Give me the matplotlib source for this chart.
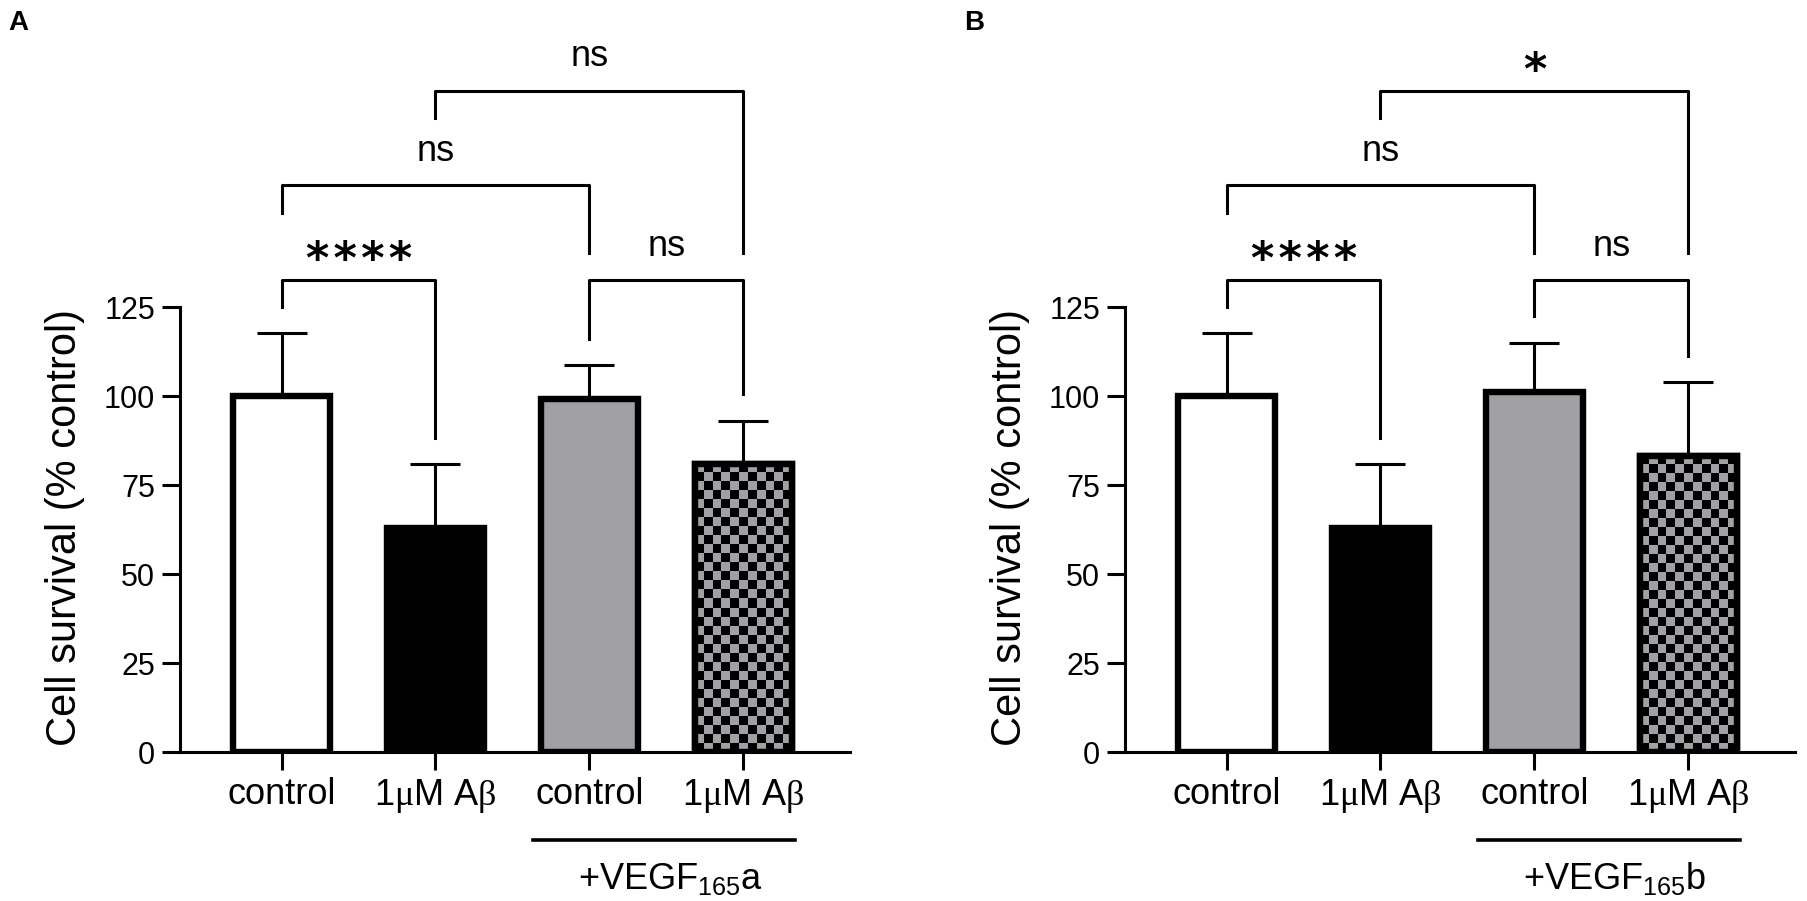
import numpy as np
import matplotlib
matplotlib.use("Agg")
import matplotlib.pyplot as plt

plt.rcParams['font.family'] = ['Liberation Sans', 'DejaVu Sans']
plt.rcParams['mathtext.fontset'] = 'custom'
plt.rcParams['mathtext.rm'] = 'Liberation Sans'
plt.rcParams['mathtext.it'] = 'Liberation Sans:italic'
plt.rcParams['mathtext.sf'] = 'Liberation Serif'
plt.rcParams['mathtext.default'] = 'regular'

# данные
categories = [r'control', r'1$\mathsf{\mu}$M A$\mathsf{\beta}$',
              r'control', r'1$\mathsf{\mu}$M A$\mathsf{\beta}$']

means_a = [100.0, 62.9, 99.3, 81.0]
sem_a = [17.7, 18.1, 9.4, 12.1]
means_b = [100.0, 62.9, 101.2, 83.2]
sem_b = [17.7, 18.1, 13.8, 20.8]

# скобки: (i, j, верх, нога i, нога j, подпись)
brackets_a = [(0, 1, 132.6, 125.0, 88.4, '****'),
              (0, 2, 159.2, 151.6, 140.3, 'ns'),
              (2, 3, 132.6, 116.1, 100.6, 'ns'),
              (1, 3, 185.8, 178.2, 140.3, 'ns')]
brackets_b = [(0, 1, 132.6, 125.0, 88.4, '****'),
              (0, 2, 159.2, 151.6, 140.3, 'ns'),
              (2, 3, 132.6, 122.6, 111.3, 'ns'),
              (1, 3, 185.8, 178.2, 140.3, '*')]

GRAY = '#a0a0a5'
fills = ['white', 'black', GRAY, 'checker']

fig = plt.figure(figsize=(18.08, 9.01), dpi=100)


def draw_panel(ax, means, sem, brackets, vegf, letter, letter_x):
    x = np.arange(len(means))
    bars = ax.bar(x, means, width=0.63, color=[f if f != 'checker' else 'black' for f in fills],
                  edgecolor='black', linewidth=4.6, zorder=2)
    ax.errorbar(x, means, yerr=[np.zeros(len(sem)), sem], fmt='none', ecolor='black',
                elinewidth=2.2, capsize=18, capthick=2.2, zorder=1)

    # шахматная заливка
    for b, f in zip(bars, fills):
        if f != 'checker':
            continue
        x0, w, h = b.get_x(), b.get_width(), b.get_height()
        nx = int(round(w / 0.0585))
        ny = int(round(h / 2.53))
        ii, jj = np.indices((ny, nx))
        board = (ii + jj) % 2
        cmap = matplotlib.colors.ListedColormap(['black', GRAY])
        im = ax.imshow(board, cmap=cmap, extent=(x0, x0 + w, 0, h), origin='lower',
                       aspect='auto', interpolation='nearest', zorder=2.1)
        im.set_clip_path(b)
        ax.bar(b.get_x() + w / 2, h, width=w, facecolor='none', edgecolor='black',
               linewidth=4.6, zorder=3)

    for i, j, top, li, lj, lab in brackets:
        ax.plot([x[i], x[i], x[j], x[j]], [li, top, top, lj], color='black',
                lw=2.2, clip_on=False, zorder=4)
        xm = (x[i] + x[j]) / 2
        if lab.startswith('*'):
            ax.text(xm, top + 2.0, '\u200a'.join(lab), ha='center', va='baseline',
                    fontsize=32, family='DejaVu Sans', fontweight='bold', clip_on=False)
        else:
            ax.text(xm, top + 9.5, lab, ha='center', va='center',
                    fontsize=26, clip_on=False)

    ax.set_xlim(-0.661, 3.695)
    ax.set_ylim(0, 210)
    ax.set_xticks(x)
    ax.set_xticklabels(categories, fontsize=26)
    ax.set_yticks([0, 25, 50, 75, 100, 125])
    ax.tick_params(axis='y', labelsize=22, length=13, width=2.2, pad=5)
    ax.tick_params(axis='x', length=13, width=2.2, pad=5)
    ax.spines[['top', 'right']].set_visible(False)
    ax.spines['left'].set_bounds(0, 125)
    for s in ['left', 'bottom']:
        ax.spines[s].set_linewidth(2.2)

    ax.set_ylabel('Cell survival (% control)', fontsize=30)
    ax.yaxis.label.set(ha='center', va='center', rotation_mode='default')
    ax.yaxis.set_label_coords(-0.1716, 0.3014)

    ax.plot([1.634, 3.337], [-24.5, -24.5], color='black', lw=2.6, clip_on=False)
    ax.text(2.525, -35.5, vegf, ha='center', va='center', fontsize=26, clip_on=False)
    fig.text(letter_x, 1 - 23 / 901, letter, fontsize=20, fontweight='bold',
             ha='left', va='center')


ax_a = fig.add_axes([0.09956, 0.16482, 0.37058, 0.8302])
ax_b = fig.add_axes([0.62223, 0.16482, 0.37058, 0.8302])
draw_panel(ax_a, means_a, sem_a, brackets_a, '+VEGF$_{165}$a', 'A', 8 / 1808)
draw_panel(ax_b, means_b, sem_b, brackets_b, '+VEGF$_{165}$b', 'B', 964 / 1808)

fig.savefig('out.png', dpi=100)
